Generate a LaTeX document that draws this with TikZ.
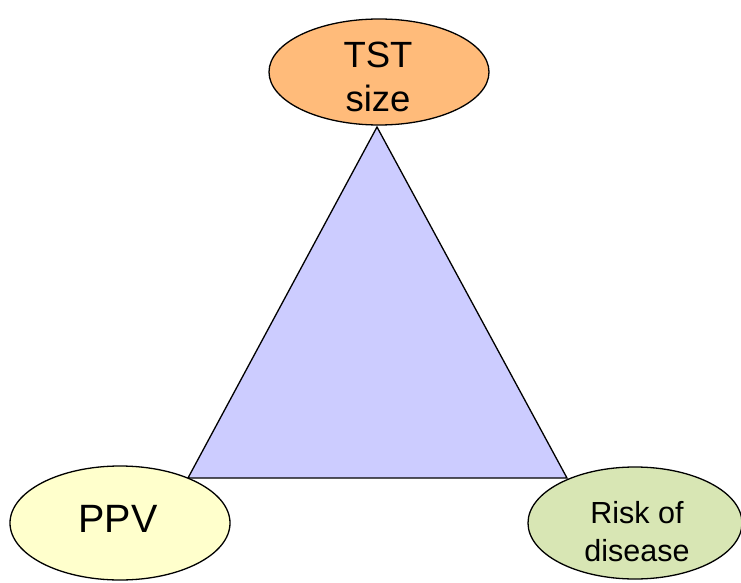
\documentclass[tikz,border=0pt]{standalone}
\usepackage{fontspec}
\setmainfont{Liberation Sans}
\definecolor{tstorange}{HTML}{FFBB7A}
\definecolor{ppvyellow}{HTML}{FFFFCC}
\definecolor{riskgreen}{HTML}{D8E6B4}
\definecolor{trilav}{HTML}{CCCCFF}
\tikzset{
  blob/.style={draw=black, line width=1.3pt},
  lbl/.style={align=center, inner sep=0pt}
}
\begin{document}
\begin{tikzpicture}[x=1pt,y=-1pt]
\useasboundingbox (0,0) rectangle (741,583);
\coordinate (apex) at (377,127);
\coordinate (bl) at (188,478);
\coordinate (br) at (567,478);
\draw[fill=trilav, line width=1.3pt, line join=miter] (apex) -- (bl) -- (br) -- cycle;
\draw[blob, fill=tstorange] (379,72) ellipse [x radius=110, y radius=53];
\draw[blob, fill=ppvyellow] (120,523) ellipse [x radius=110, y radius=57];
\draw[blob, fill=riskgreen] (635,523) ellipse [x radius=107, y radius=56];
\node[lbl, font=\fontsize{36.5}{44}\selectfont, anchor=base] (tst) at (378,68) {TST};
\node[lbl, font=\fontsize{36.5}{44}\selectfont, anchor=base] (size) at (378,112) {size};
\node[lbl, font=\fontsize{39.5}{44}\selectfont, anchor=base] (ppv) at (118,532) {PPV};
\node[lbl, font=\fontsize{30.5}{39}\selectfont, anchor=base] (risk) at (637,523) {Risk of};
\node[lbl, font=\fontsize{30.5}{39}\selectfont, anchor=base] (dis) at (637,561) {disease};
\end{tikzpicture}
\end{document}
